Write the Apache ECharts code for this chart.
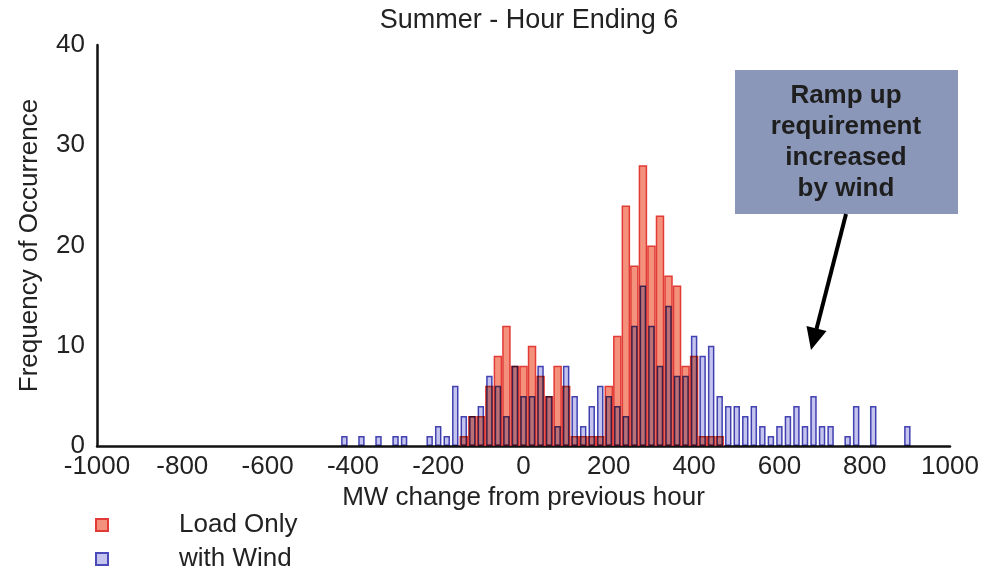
<!DOCTYPE html>
<html style="height: 100%">
<head>
	<meta charset="utf-8">
</head>
<body style="height: 100%; margin: 0; background: #fff">
<div id="container" style="width: 988px; height: 572px"></div>
<script type="text/javascript" src="https://cdn.jsdelivr.net/npm/echarts@6/dist/echarts.min.js"></script>
<script type="text/javascript">
    // bin centres (MW), only bins with at least one occurrence
    var bins = [-420, -380, -340, -300, -280, -220, -200, -180, -160, -140, -120, -100, -80, -60, -40, -20,
        0, 20, 40, 60, 80, 100, 120, 140, 160, 180, 200, 220, 240, 260, 280, 300, 320, 340, 360, 380,
        400, 420, 440, 460, 480, 500, 520, 540, 560, 580, 600, 620, 640, 660, 680, 700, 720, 760, 780, 820, 900];
    var loadOnly = [0, 0, 0, 0, 0, 0, 0, 0, 0, 1, 3, 3, 6, 9, 12, 8,
        8, 10, 7, 5, 8, 6, 1, 1, 1, 1, 6, 11, 24, 18, 28, 20, 23, 17, 16, 8,
        9, 1, 1, 1, 0, 0, 0, 0, 0, 0, 0, 0, 0, 0, 0, 0, 0, 0, 0, 0, 0];
    var withWind = [1, 1, 1, 1, 1, 1, 2, 1, 6, 3, 3, 4, 7, 6, 3, 8,
        5, 5, 8, 5, 2, 8, 5, 2, 4, 6, 5, 4, 3, 12, 16, 12, 8, 14, 7, 7,
        11, 9, 10, 5, 4, 4, 3, 4, 2, 1, 2, 3, 4, 2, 5, 2, 2, 1, 4, 4, 2];
    var xTicks = {min: -1000, max: 1000, interval: 200};
    var yTicks = {min: 0, max: 40, interval: 10};

    var font = 'Liberation Sans';

    function pairs(values) {
        var out = [];
        for (var i = 0; i < bins.length; i++) {
            if (values[i] > 0) out.push([bins[i], values[i]]);
        }
        return out;
    }

    var dom = document.getElementById("container");
    var myChart = echarts.init(dom);

    var option = {
        backgroundColor: '#fff',
        animation: false,
        title: {
            text: 'Summer - Hour Ending 6',
            left: 524,
            textAlign: 'center',
            top: 2,
            textStyle: {fontFamily: font, fontSize: 27, fontWeight: 'normal', color: '#222'}
        },
        legend: {
            orient: 'vertical',
            left: 95,
            top: 512,
            padding: 0,
            height: 62,
            itemWidth: 12,
            itemHeight: 12,
            itemGap: 8,
            icon: 'rect',
            data: ['Load Only', 'with Wind'],
            textStyle: {fontFamily: font, fontSize: 26, color: '#222', padding: [0, 0, 0, 66]}
        },
        grid: {left: 97, right: 38, top: 45, bottom: 126},
        xAxis: [{
            type: 'value',
            min: xTicks.min, max: xTicks.max, interval: xTicks.interval,
            name: 'MW change from previous hour',
            nameLocation: 'middle',
            nameGap: 35,
            nameTextStyle: {fontFamily: font, fontSize: 26, color: '#222'},
            axisLine: {onZero: false, lineStyle: {color: '#111', width: 2.5}},
            axisTick: {show: false},
            splitLine: {show: false},
            axisLabel: {fontFamily: font, fontSize: 26, color: '#222', margin: 8,
                formatter: function (v) { return String(v); }}
        }, {
            type: 'value',
            min: xTicks.min, max: xTicks.max,
            show: false
        }],
        yAxis: {
            type: 'value',
            min: yTicks.min, max: yTicks.max, interval: yTicks.interval,
            name: 'Frequency of Occurrence',
            nameLocation: 'middle',
            nameGap: 54,
            nameTextStyle: {fontFamily: font, fontSize: 26, color: '#222'},
            axisLine: {show: true, onZero: false, lineStyle: {color: '#111', width: 2.5}},
            axisTick: {show: false},
            splitLine: {show: false},
            axisLabel: {fontFamily: font, fontSize: 26, color: '#222', margin: 12}
        },
        graphic: [{
            type: 'rect',
            shape: {x: 735, y: 70, width: 223, height: 144},
            style: {fill: '#8b97b9'}
        }, {
            type: 'text',
            x: 846, y: 142,
            style: {
                text: 'Ramp up\nrequirement\nincreased\nby wind',
                fontFamily: font, fontSize: 26, fontWeight: 'bold',
                fill: '#1e1e1e', align: 'center', verticalAlign: 'middle', lineHeight: 31
            }
        }, {
            type: 'line',
            shape: {x1: 846, y1: 214, x2: 816.5, y2: 329},
            style: {stroke: '#000', lineWidth: 4}
        }, {
            type: 'polygon',
            shape: {points: [[811, 350], [826.5, 331], [806.5, 326]]},
            style: {fill: '#000'}
        }],
        series: [{
            name: 'Load Only',
            type: 'bar',
            xAxisIndex: 0,
            barWidth: 8.5,
            data: pairs(loadOnly),
            itemStyle: {color: '#f4917d', borderColor: '#e23a34', borderWidth: 1.5}
        }, {
            name: 'with Wind',
            type: 'bar',
            xAxisIndex: 1,
            barWidth: 6.5,
            blendMode: 'multiply',
            data: pairs(withWind),
            itemStyle: {color: '#c4c4ee', borderColor: '#4a4ab8', borderWidth: 1.5}
        }]
    };

    myChart.setOption(option);
</script>
</body>
</html>
